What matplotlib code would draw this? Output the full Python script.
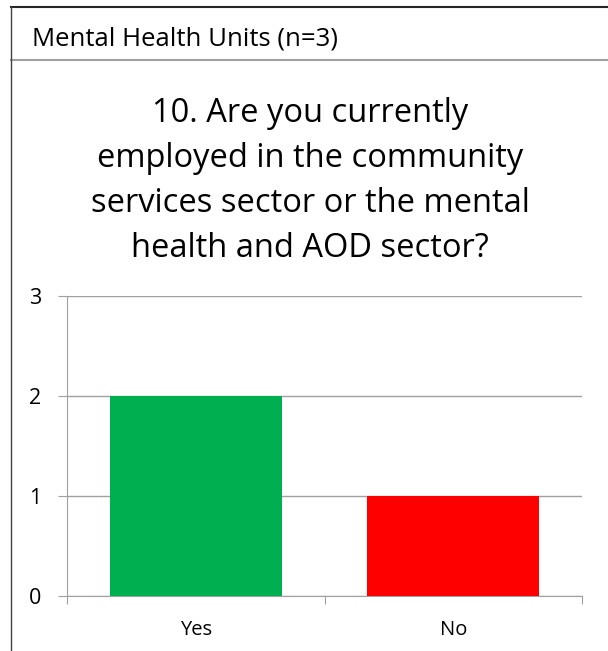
import matplotlib
matplotlib.use("Agg")
import matplotlib.pyplot as plt
from matplotlib.lines import Line2D

categories = ["Yes", "No"]
counts = [2, 1]
bar_colors = ["#00B050", "#FF0000"]
y_ticks = [0, 1, 2, 3]
header = "Mental Health Units (n=3)"
title_lines = ["10. Are you currently",
               "employed in the community",
               "services sector or the mental",
               "health and AOD sector?"]

plt.rcParams["font.family"] = ["Open Sans", "DejaVu Sans"]

W, H = 608, 651
fig = plt.figure(figsize=(W / 100, H / 100), dpi=100)


def fx(px):
    return px / W


def fy(py):
    return 1 - py / H


# header strip and left frame
fig.add_artist(Line2D([fx(11), 1], [fy(7), fy(7)], color="#262626", lw=1.5))
fig.add_artist(Line2D([fx(11), 1], [fy(60), fy(60)], color="#A0A0A0", lw=1.5))
fig.add_artist(Line2D([fx(11), fx(11)], [fy(7), 0], color="#404040", lw=1.0))
fig.text(fx(32), fy(45), header, fontsize=18.5, ha="left", va="baseline")

# question title, one line per row
for i, line in enumerate(title_lines):
    fig.text(fx(310), fy(122 + 45 * i), line, fontsize=23.5,
             ha="center", va="baseline")

ax = fig.add_axes([fx(67), fy(596), fx(582) - fx(67), fy(296) - fy(596)])
x = range(len(categories))
ax.bar(x, counts, width=0.668, color=bar_colors, zorder=3)
ax.set_xlim(-0.5, 1.5)
ax.set_ylim(0, 3)
ax.set_yticks(y_ticks)
ax.set_xticks([-0.5, 0.5, 1.5])
ax.set_xticklabels([])
ax.set_xticks(list(x), categories, minor=True)
ax.tick_params(axis="x", which="minor", length=0, pad=17.5, labelsize=14.5)
ax.tick_params(axis="x", which="major", length=5.5, color="#A0A0A0")
ax.tick_params(axis="y", length=6.5, color="#A0A0A0", labelsize=15.5, pad=12)
ax.grid(axis="y", color="#A0A0A0", lw=1.0, zorder=0)
for s in ["top", "right"]:
    ax.spines[s].set_visible(False)
for s in ["left", "bottom"]:
    ax.spines[s].set_color("#A0A0A0")

fig.savefig("out.png", dpi=100)
